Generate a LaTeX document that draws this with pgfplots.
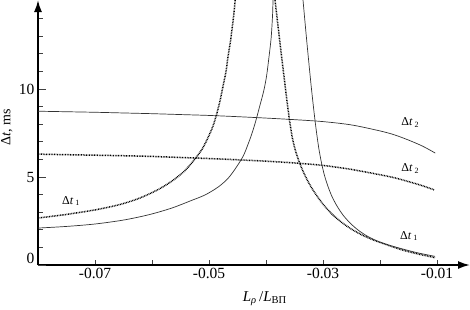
\documentclass[border=0pt]{standalone}
\usepackage{fontspec}
\setmainfont{Liberation Serif}
\usepackage{pgfplots}
\pgfplotsset{compat=1.18}
\usetikzlibrary{arrows.meta}
\begin{document}
\begin{tikzpicture}
\path[use as bounding box] (0,0) rectangle (470pt,309pt);
\begin{axis}[
  at={(38pt,44pt)}, anchor=south west,
  scale only axis, width=432pt, height=265pt,
  xmin=-0.08, xmax=-0.00421, ymin=0, ymax=15.06,
  enlargelimits=false, clip=false,
  axis lines=left,
  axis line style={line width=1.8pt, -{Latex[length=12pt,width=8pt]}},
  scaled x ticks=false,
  xtick={-0.07,-0.06,-0.05,-0.04,-0.03,-0.02,-0.01},
  xticklabels={-0.07,,-0.05,,-0.03,,-0.01},
  ytick={5,10},
  extra y ticks={0},
  extra y tick style={yticklabel style={yshift=7pt}},
  minor ytick={1,2,3,4,6,7,8,9,11,12,13,14},
  tick align=inside,
  major tick length=8pt, minor tick length=4.5pt,
  xtick style={/pgfplots/major tick length=5pt},
  every tick/.style={black!75, line width=0.8pt},
  tick label style={font=\fontsize{15.5}{18}\selectfont},
  /pgf/number format/assume math mode=true,
  xlabel={\textit{L}\textsubscript{\textit{ρ}}\,/\textit{L}\textsubscript{ВП}},
  xlabel style={at={(axis description cs:0.525,-0.128)}, anchor=center, font=\fontsize{15}{18}\selectfont},
  ylabel={Δ\textit{t}, ms},
  ylabel style={at={(axis description cs:-0.072,0.52)}, anchor=center, font=\fontsize{14}{16}\selectfont},
]
% Delta t2 solid (upper)
\addplot[black!80, line width=0.7pt, smooth] coordinates {
(-0.08,8.74)(-0.075,8.71)(-0.07,8.68)(-0.065,8.64)(-0.06,8.6)(-0.055,8.55)(-0.05,8.5)(-0.045,8.43)(-0.04,8.35)(-0.035,8.26)(-0.03,8.15)(-0.025,7.96)(-0.02,7.62)(-0.0175,7.4)(-0.015,7.1)(-0.0125,6.75)(-0.0103,6.36)};
% Delta t2 dotted (lower)
\addplot[black, line width=1.5pt, dash pattern=on 0.8pt off 0.8pt, smooth] coordinates {
(-0.08,6.3)(-0.075,6.27)(-0.07,6.24)(-0.065,6.21)(-0.06,6.17)(-0.055,6.11)(-0.05,6.05)(-0.045,5.98)(-0.04,5.9)(-0.035,5.8)(-0.03,5.66)(-0.025,5.43)(-0.02,5.13)(-0.0175,4.96)(-0.015,4.74)(-0.0125,4.5)(-0.0105,4.27)};
% Delta t1 solid, left branch
\addplot[black!80, line width=0.7pt, smooth] coordinates {
(-0.0800,2.10)(-0.0751,2.19)(-0.0700,2.33)(-0.0649,2.56)(-0.0604,2.87)(-0.0565,3.24)(-0.0533,3.64)(-0.0507,3.98)(-0.0484,4.43)(-0.0467,4.91)(-0.0453,5.51)(-0.0440,6.19)(-0.0432,6.82)(-0.0425,7.44)(-0.0418,8.18)(-0.0411,9.03)(-0.0404,9.89)(-0.0399,10.74)(-0.0395,11.76)(-0.0391,12.90)(-0.03885,14.20)(-0.03877,15.06)};
% Delta t1 dotted, left branch
\addplot[black, line width=1.5pt, dash pattern=on 0.8pt off 0.8pt, smooth] coordinates {
(-0.0800,2.67)(-0.0751,2.87)(-0.0700,3.13)(-0.0656,3.44)(-0.0621,3.81)(-0.0589,4.29)(-0.0565,4.77)(-0.0544,5.31)(-0.0526,5.97)(-0.0512,6.59)(-0.0502,7.22)(-0.0493,7.90)(-0.0486,8.64)(-0.0480,9.43)(-0.0475,10.23)(-0.0470,11.02)(-0.0467,11.76)(-0.0463,12.56)(-0.0460,13.30)(-0.0457,14.09)(-0.0454,15.06)};
% Delta t1 dotted, right branch
\addplot[black, line width=1.5pt, dash pattern=on 0.8pt off 0.8pt, smooth] coordinates {
(-0.03842,15.06)(-0.03789,13.58)(-0.03737,12.13)(-0.03684,10.71)(-0.03632,9.32)(-0.03588,8.24)(-0.03544,7.33)(-0.03491,6.59)(-0.03430,5.97)(-0.03360,5.40)(-0.03281,4.86)(-0.03193,4.35)(-0.03088,3.84)(-0.02965,3.32)(-0.02825,2.84)(-0.02667,2.41)(-0.02491,2.02)(-0.02298,1.68)(-0.02088,1.39)(-0.01860,1.13)(-0.01614,0.86)(-0.01351,0.64)(-0.01035,0.42)};
% Delta t1 solid, right branch
\addplot[black!80, line width=0.7pt, smooth] coordinates {
(-0.03351,15.06)(-0.03316,13.81)(-0.03281,12.59)(-0.03246,11.42)(-0.03211,10.28)(-0.03175,9.20)(-0.03140,8.21)(-0.03105,7.33)(-0.03070,6.56)(-0.03026,5.80)(-0.02974,5.09)(-0.02912,4.46)(-0.02842,3.89)(-0.02754,3.35)(-0.02649,2.84)(-0.02526,2.39)(-0.02386,1.99)(-0.02228,1.65)(-0.02053,1.37)(-0.01842,1.13)(-0.01614,0.92)(-0.01351,0.70)(-0.01035,0.49)};
\node[font=\fontsize{12}{14}\selectfont] at (axis cs:-0.0147,8.1) {Δ\textit{t}\,\textsubscript{2}};
\node[font=\fontsize{12}{14}\selectfont] at (axis cs:-0.0147,5.5) {Δ\textit{t}\,\textsubscript{2}};
\node[font=\fontsize{12}{14}\selectfont] at (axis cs:-0.0149,1.65) {Δ\textit{t}\,\textsubscript{1}};
\node[font=\fontsize{12}{14}\selectfont] at (axis cs:-0.0742,3.64) {Δ\textit{t}\,\textsubscript{1}};
\end{axis}
\end{tikzpicture}
\end{document}
